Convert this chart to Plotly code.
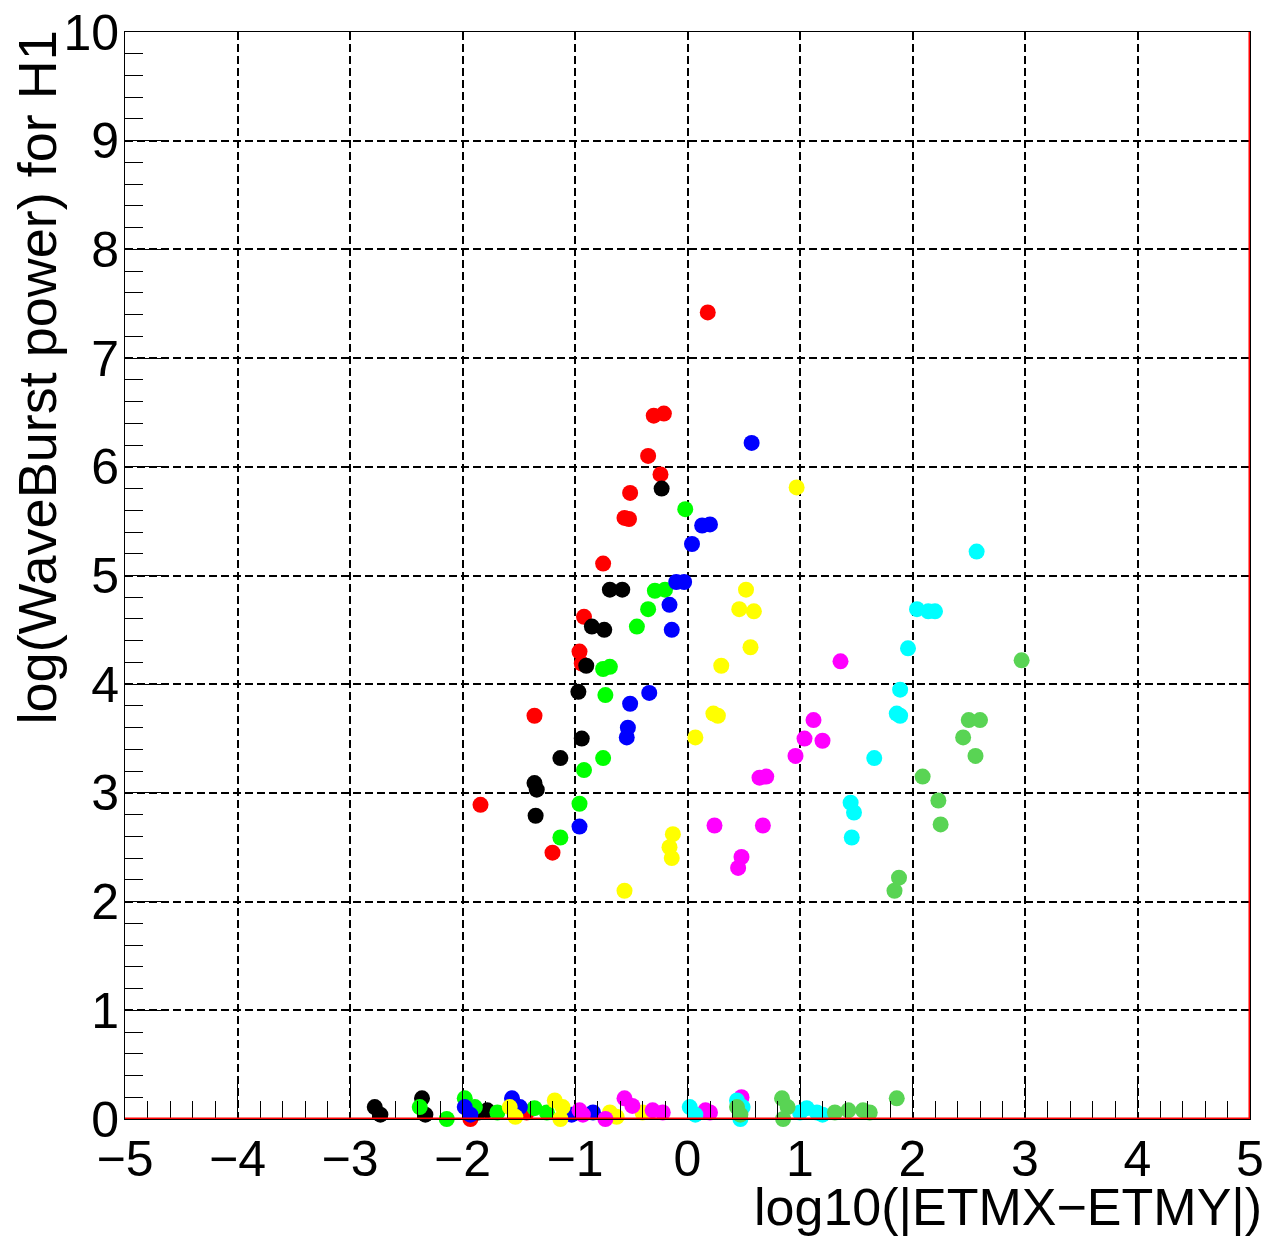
import plotly.graph_objects as go

# ---- data ----
red_x = [0.18, -0.30, -0.21, -0.35, -0.24, -0.51, -0.56, -0.52, -0.75, -0.92, -0.96, -0.94, -1.36, -1.84, -1.20, -1.93, -1.43]
red_y = [7.42, 6.47, 6.49, 6.10, 5.93, 5.76, 5.53, 5.52, 5.11, 4.62, 4.30, 4.19, 3.71, 2.89, 2.45, 0.00, 0.06]

black_x = [-0.23, -0.69, -0.58, -0.85, -0.74, -0.90, -0.97, -0.94, -1.13, -1.36, -1.34, -1.35, -2.78, -2.73, -2.36, -2.33, -1.78, -1.86]
black_y = [5.80, 4.87, 4.87, 4.53, 4.50, 4.17, 3.93, 3.50, 3.32, 3.09, 3.03, 2.79, 0.11, 0.04, 0.19, 0.04, 0.08, 0.06]

green_x = [-0.02, -0.29, -0.20, -0.35, -0.45, -0.75, -0.69, -0.73, -0.75, -0.92, -0.96, -1.13, -2.38, -2.14, -1.98, -1.89, -1.69, -1.36, -1.25]
green_y = [5.61, 4.86, 4.87, 4.69, 4.53, 4.14, 4.16, 3.90, 3.32, 3.21, 2.90, 2.59, 0.11, 0.00, 0.19, 0.11, 0.06, 0.10, 0.06]

blue_x = [0.57, 0.13, 0.20, 0.04, -0.10, -0.03, -0.16, -0.14, -0.34, -0.51, -0.53, -0.54, -0.96, -1.98, -1.93, -1.56, -1.49, -1.03, -0.84, 0.47]
blue_y = [6.22, 5.46, 5.47, 5.29, 4.94, 4.94, 4.73, 4.50, 3.92, 3.82, 3.60, 3.51, 2.69, 0.11, 0.04, 0.19, 0.11, 0.04, 0.06, 0.17]

yellow_x = [0.97, 0.52, 0.46, 0.59, 0.56, 0.30, 0.23, 0.27, 0.07, -0.13, -0.16, -0.14, -0.56, -1.58, -1.53, -1.18, -1.11, -1.13, -0.69, -0.63, -0.40]
yellow_y = [5.81, 4.87, 4.69, 4.67, 4.34, 4.17, 3.73, 3.71, 3.51, 2.62, 2.50, 2.40, 2.10, 0.11, 0.02, 0.17, 0.11, 0.00, 0.06, 0.02, 0.06]

magenta_x = [1.36, 1.12, 1.04, 1.20, 0.96, 0.64, 0.70, 0.24, 0.67, 0.48, 0.45, -0.96, -0.93, -0.73, -0.56, -0.49, -0.31, -0.22, 0.16, 0.20, 0.48]
magenta_y = [4.21, 3.67, 3.50, 3.48, 3.34, 3.14, 3.15, 2.70, 2.70, 2.41, 2.31, 0.08, 0.04, 0.00, 0.19, 0.12, 0.08, 0.06, 0.08, 0.06, 0.20]

cyan_x = [2.57, 2.04, 2.14, 2.20, 1.96, 1.89, 1.86, 1.89, 1.66, 1.45, 1.48, 1.46, 0.02, 0.07, 0.44, 0.49, 0.47, 1.00, 1.06, 1.15, 1.20]
cyan_y = [5.22, 4.69, 4.67, 4.67, 4.33, 3.95, 3.73, 3.71, 3.32, 2.91, 2.82, 2.59, 0.11, 0.04, 0.17, 0.11, 0.00, 0.06, 0.10, 0.06, 0.04]

lgreen_x = [2.97, 2.50, 2.60, 2.45, 2.56, 2.09, 2.23, 2.25, 1.88, 1.84, 0.44, 0.47, 0.84, 0.89, 0.85, 1.31, 1.43, 1.56, 1.62, 1.86]
lgreen_y = [4.22, 3.67, 3.67, 3.51, 3.34, 3.15, 2.93, 2.71, 2.22, 2.10, 0.11, 0.04, 0.19, 0.11, 0.00, 0.06, 0.08, 0.08, 0.06, 0.19]

x_range = [-5, 5]
y_range = [0, 10]
x_title = "log10(|ETMX\u2212ETMY|)"
y_title = "log(WaveBurst power) for H1"

series = [
    (red_x, red_y, "#ff0000"),
    (black_x, black_y, "#000000"),
    (green_x, green_y, "#00ff00"),
    (blue_x, blue_y, "#0000ff"),
    (yellow_x, yellow_y, "#ffff00"),
    (magenta_x, magenta_y, "#ff00ff"),
    (cyan_x, cyan_y, "#00ffff"),
    (lgreen_x, lgreen_y, "#59d454"),
]

FONT = "Liberation Sans"
FS = 50

fig = go.Figure()
for xs, ys, col in series:
    fig.add_trace(go.Scatter(
        x=xs, y=ys, mode="markers",
        marker=dict(color=col, size=16, line=dict(width=0)),
        cliponaxis=False, showlegend=False, hoverinfo="skip",
    ))

axis_common = dict(
    automargin=False,
    showline=True, linecolor="black", linewidth=1, mirror=True,
    showgrid=True, gridcolor="black", gridwidth=1.5, griddash="8px,4px",
    zeroline=False, ticks="inside", tickcolor="black", tickwidth=1,
    dtick=1, tickfont=dict(family=FONT, size=FS, color="black"),
    minor=dict(ticks="inside", dtick=0.2, ticklen=18, tickcolor="black", tickwidth=1, showgrid=False),
)

fig.update_xaxes(range=x_range, tick0=-5, ticklen=36, ticklabelstandoff=-4, **axis_common)
fig.update_yaxes(range=y_range, tick0=0, ticklen=36, ticklabelstandoff=-5, **axis_common)

# red histogram-like border at bottom and right edges
fig.add_shape(type="line", xref="x", yref="y", x0=x_range[0], x1=x_range[1], y0=y_range[0], y1=y_range[0],
              line=dict(color="#ff0000", width=3), layer="above")
fig.add_shape(type="line", xref="x", yref="y", x0=x_range[1], x1=x_range[1], y0=y_range[0], y1=y_range[1],
              line=dict(color="#ff0000", width=3), layer="above")

fig.add_annotation(text=x_title, xref="paper", yref="paper", x=1.0125, y=-0.0808,
                   xanchor="right", yanchor="middle", showarrow=False,
                   font=dict(family=FONT, size=52, color="black"))
fig.add_annotation(text=y_title, xref="paper", yref="paper", x=-0.0785, y=1.003,
                   xanchor="center", yanchor="top", textangle=-90, showarrow=False,
                   font=dict(family=FONT, size=54, color="black"))

fig.update_layout(
    width=1270, height=1237,
    margin=dict(l=125, r=20, t=32, b=118, autoexpand=False),
    paper_bgcolor="white", plot_bgcolor="white",
)

fig.write_html("out.html", config={"displayModeBar": False},
               post_script="document.body.style.margin='0';document.body.style.overflow='hidden';")
